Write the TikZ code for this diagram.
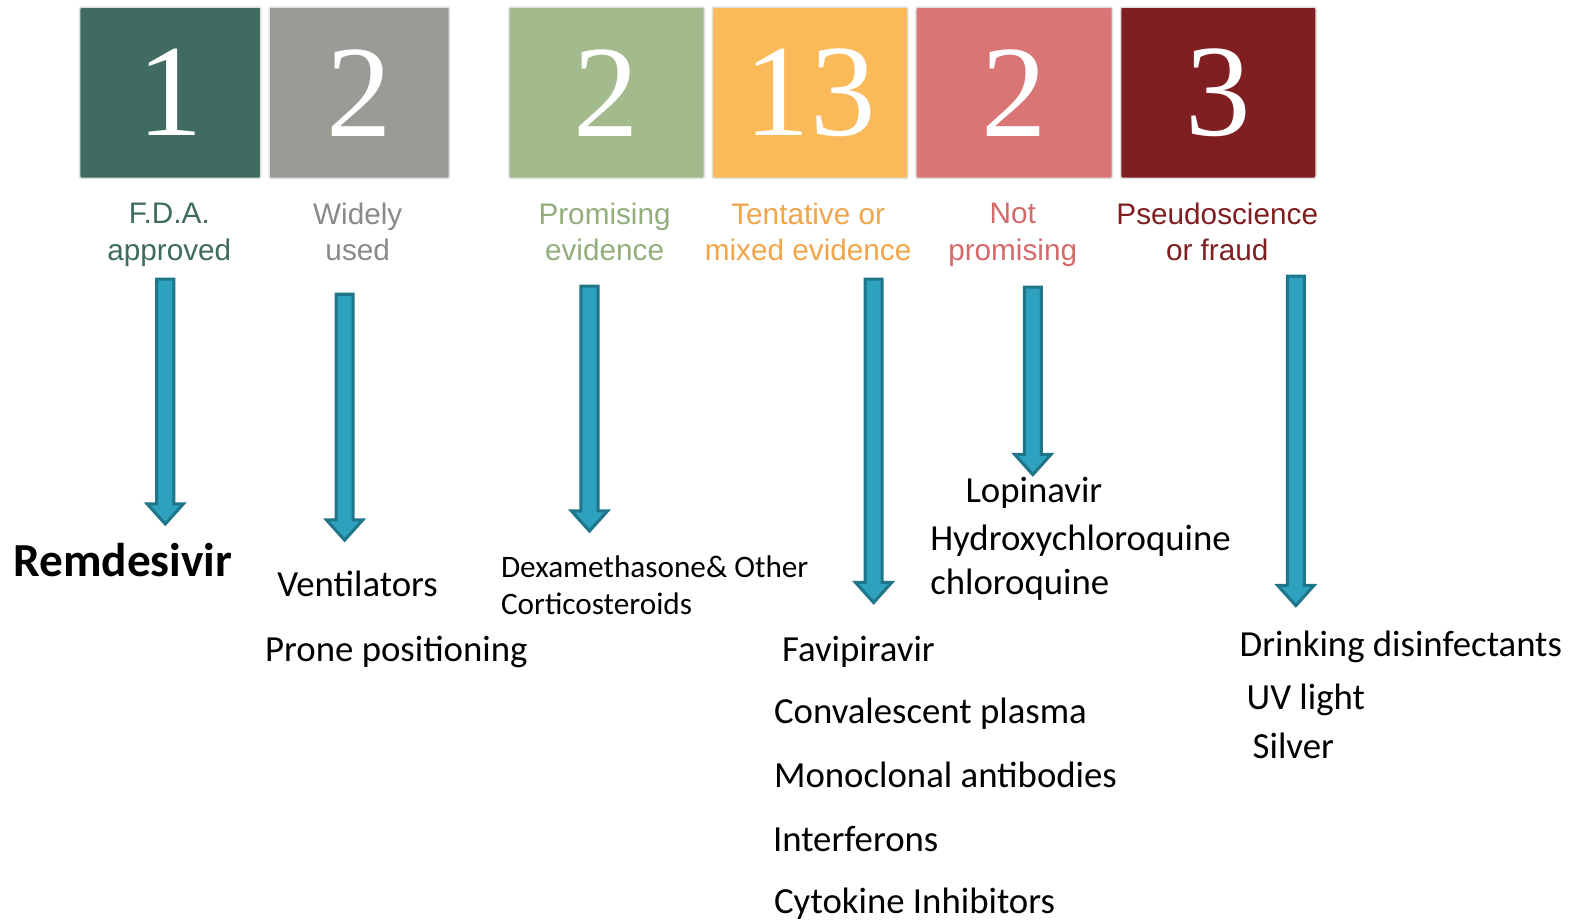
\documentclass[tikz,border=0pt]{standalone}
\usepackage{fontspec}
\setmainfont{Carlito}
\newfontfamily\numfont{Liberation Serif}
\newfontfamily\labfont{Liberation Sans}
\usetikzlibrary{calc}
\definecolor{cA}{HTML}{3F6B61}
\definecolor{cB}{HTML}{9B9B96}
\definecolor{cC}{HTML}{A2BA8C}
\definecolor{cD}{HTML}{FBBA5A}
\definecolor{cE}{HTML}{D97574}
\definecolor{cF}{HTML}{801F22}
\definecolor{lB}{HTML}{8A8A86}
\definecolor{lC}{HTML}{93AE7C}
\definecolor{lD}{HTML}{F0A54A}
\definecolor{lE}{HTML}{D46A6A}
\definecolor{arrfill}{HTML}{2DA1BD}
\definecolor{arrline}{HTML}{1F7589}
\newcommand\lstr{\vphantom{Apg}}
\newcommand\blockarrow[2]{%
  \draw[blockarrow] let \p1=(#1), \p2=(#2) in
    (\x1-8.5pt,\y1) -- (\x1+8.5pt,\y1) -- (\x1+8.5pt,\y2+20pt) -- (\x1+18pt,\y2+20pt)
    -- (\x1,\y2) -- (\x1-18pt,\y2+20pt) -- (\x1-8.5pt,\y2+20pt) -- cycle;}
\begin{document}
\begin{tikzpicture}[x=1pt,y=-1pt,
  numbox/.style={draw=black!12,line width=1.5pt,rounded corners=2pt,minimum height=170pt,inner sep=0pt,text=white,font=\numfont\fontsize{130}{130}\selectfont},
  catlab/.style={align=center,inner sep=0pt,font=\labfont\fontsize{29.5}{36}\selectfont},
  item/.style={anchor=base west,inner sep=0pt,font=\fontsize{36.5}{40}\selectfont},
  smallitem/.style={anchor=base west,inner sep=0pt,font=\fontsize{31}{37}\selectfont},
  blockarrow/.style={draw=arrline,fill=arrfill,line width=3pt,line join=miter}]
\fill[white] (0,0) rectangle (1568,914);
\useasboundingbox (0,0) rectangle (1568,914);
% boxes
\node[numbox,fill=cA,minimum width=180pt] (b1) at (169,92) {1};
\node[numbox,fill=cB,minimum width=179pt] (b2) at (356.5,92) {2};
\node[numbox,fill=cC,minimum width=194pt] (b3) at (602,92) {2};
\node[numbox,fill=cD,minimum width=194pt] (b4) at (804,92) {13};
\node[numbox,fill=cE,minimum width=195pt] (b5) at (1006.5,92) {2};
\node[numbox,fill=cF,minimum width=194pt] (b6) at (1209,92) {3};
% category labels
\node[catlab,text=cA] (l1) at (168,233) {\lstr F.D.A.\\\lstr approved};
\node[catlab,text=lB] (l2) at (355,233) {\lstr Widely\\\lstr used};
\node[catlab,text=lC] (l3) at (600,233) {\lstr Promising\\\lstr evidence};
\node[catlab,text=lD] (l4) at (802,233) {\lstr Tentative or\\\lstr mixed evidence};
\node[catlab,text=lE] (l5) at (1005,233) {\lstr Not\\\lstr promising};
\node[catlab,text=cF] (l6) at (1208,233) {\lstr Pseudoscience\\\lstr or fraud};
% arrow end points
\coordinate (s1) at (164,277); \coordinate (e1) at (164,520);
\coordinate (s2) at (342,292); \coordinate (e2) at (342,536);
\coordinate (s3) at (585,284); \coordinate (e3) at (585,527);
\coordinate (s4) at (867,277); \coordinate (e4) at (867,598);
\coordinate (s5) at (1025,285); \coordinate (e5) at (1025,471);
\coordinate (s6) at (1286,274); \coordinate (e6) at (1286,601);
\blockarrow{s1}{e1}
\blockarrow{s2}{e2}
\blockarrow{s3}{e3}
\blockarrow{s4}{e4}
\blockarrow{s5}{e5}
\blockarrow{s6}{e6}
% items
\node[item,font=\bfseries\fontsize{47}{50}\selectfont] (remd) at (13,572) {Remdesivir};
\node[item] (vent) at (275,591.5) {Ventilators};
\node[item] (prone) at (263,656.5) {Prone positioning};
\node[smallitem] (dexa) at (497,573) {Dexamethasone\& Other};
\node[smallitem] (cort) at (497,610) {Corticosteroids};
\node[item] (lopi) at (958,498.5) {Lopinavir};
\node[item] (hcq) at (923,546.5) {Hydroxychloroquine};
\node[item] (cq) at (923,589.5) {chloroquine};
\node[item] (favi) at (776,656.5) {Favipiravir};
\node[item] (conv) at (768,717.5) {Convalescent plasma};
\node[item] (mono) at (768,781.5) {Monoclonal antibodies};
\node[item] (inter) at (767,845.5) {Interferons};
\node[item] (cyto) at (768,906.5) {Cytokine Inhibitors};
\node[item] (drink) at (1230,651.5) {Drinking disinfectants};
\node[item] (uv) at (1237,704.5) {UV light};
\node[item] (silver) at (1243,752.5) {Silver};
\end{tikzpicture}
\end{document}
